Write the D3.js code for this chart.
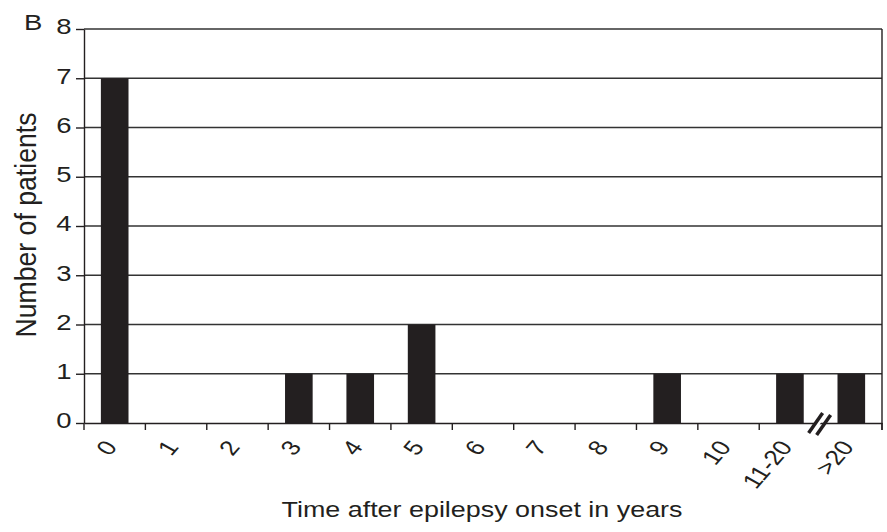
<!DOCTYPE html>
<html>
<head>
<meta charset="utf-8">
<script src="https://cdn.jsdelivr.net/npm/d3@7"></script>
<style>
  body { margin: 0; background: #fff; }
  text { font-family: "Liberation Sans", Arial, sans-serif; fill: #231f20; }
</style>
</head>
<body>
<div id="chart-area"></div>
<script>
// values
const categories = ['0', '1', '2', '3', '4', '5', '6', '7', '8', '9', '10', '11-20', '>20'];
const patients = [7, 0, 0, 1, 1, 2, 0, 0, 0, 1, 0, 1, 1];
const yTicks = [0, 1, 2, 3, 4, 5, 6, 7, 8];

const data = categories.map((c, i) => ({cat: c, n: patients[i]}));

const W = 887, H = 532;
const ink = '#231f20';
const stretch = 1.25; // the scanned figure is wider than it is tall

const svg = d3.select('#chart-area')
    .append('svg')
    .attr('width', W)
    .attr('height', H);

const x = d3.scaleBand()
    .domain(categories)
    .range([84, 882])
    .paddingInner(0.55)
    .paddingOuter(0.275);

const y = d3.scaleLinear()
    .domain([0, 8])
    .range([423, 29]);

// horizontal grid lines
svg.append('g')
    .selectAll('line')
    .data(yTicks.filter(d => d > 0))
    .enter()
    .append('line')
        .attr('x1', 84)
        .attr('x2', 882)
        .attr('y1', d => y(d))
        .attr('y2', d => y(d))
        .attr('stroke', '#333')
        .attr('stroke-width', 1.4);

// bars
svg.append('g')
    .selectAll('rect')
    .data(data.filter(d => d.n > 0))
    .enter()
    .append('rect')
        .attr('x', d => x(d.cat))
        .attr('y', d => y(d.n))
        .attr('width', x.bandwidth())
        .attr('height', d => y(0) - y(d.n))
        .attr('fill', ink);

// y axis
const yAxisCall = d3.axisLeft(y)
    .tickValues(yTicks)
    .tickSize(8)
    .tickSizeOuter(0)
    .tickPadding(2);
const yAxis = svg.append('g')
    .attr('transform', 'translate(84, 0)')
    .call(yAxisCall);
yAxis.select('.domain').attr('stroke', ink).attr('stroke-width', 1.4);
yAxis.selectAll('line').attr('stroke', ink).attr('stroke-width', 1.4);
yAxis.selectAll('text')
    .attr('font-size', '22px')
    .attr('dy', '0.22em')
    .attr('transform', `scale(${stretch},1)`)
    .style('fill', ink);

// x axis: labels at band centres, ticks between bands
const xAxisCall = d3.axisBottom(x)
    .tickSize(0)
    .tickSizeOuter(0);
const xAxis = svg.append('g')
    .attr('transform', `translate(0, ${y(0)})`)
    .call(xAxisCall);
xAxis.select('.domain').attr('stroke', ink).attr('stroke-width', 1.4);
xAxis.selectAll('text')
    .attr('font-size', '21px')
    .attr('x', 0)
    .attr('y', 0)
    .attr('dy', '0.35em')
    .attr('text-anchor', 'end')
    .attr('transform', `translate(-4, 20) scale(${stretch},1) rotate(-55)`)
    .style('fill', ink);

const half = (x.step() - x.bandwidth()) / 2;
const bounds = d3.range(categories.length + 1)
    .filter(i => i !== categories.length - 1)
    .map(i => i < categories.length ? x(categories[i]) - half : x(categories[i - 1]) + x.bandwidth() + half);
xAxis.selectAll('.bound')
    .data(bounds)
    .enter()
    .append('line')
        .attr('class', 'bound')
        .attr('x1', d => d)
        .attr('x2', d => d)
        .attr('y1', 0)
        .attr('y2', 7)
        .attr('stroke', ink)
        .attr('stroke-width', 1.4);

// right frame
svg.append('line')
    .attr('x1', x.range()[1])
    .attr('x2', x.range()[1])
    .attr('y1', y(8))
    .attr('y2', y(0) + 7)
    .attr('stroke', ink)
    .attr('stroke-width', 1.4);

// axis break between 11-20 and >20
const bx = x(categories[categories.length - 1]) - half;
const brk = svg.append('g').attr('transform', `translate(${bx}, ${y(0)})`);
brk.append('polygon')
    .attr('points', '-10,10 2,-10 6,-10 -6,10')
    .attr('fill', '#fff');
brk.append('line')
    .attr('x1', -12).attr('y1', 10).attr('x2', 2).attr('y2', -10)
    .attr('stroke', ink).attr('stroke-width', 3.5);
brk.append('line')
    .attr('x1', -4).attr('y1', 12).attr('x2', 10).attr('y2', -8)
    .attr('stroke', ink).attr('stroke-width', 3.5);

// panel letter
svg.append('text')
    .attr('x', 24 / stretch)
    .attr('y', 30)
    .attr('font-size', '22px')
    .attr('transform', `scale(${stretch},1)`)
    .text('B');

// axis titles
svg.append('text')
    .attr('x', 482)
    .attr('y', 517)
    .attr('font-size', '22px')
    .attr('text-anchor', 'middle')
    .attr('textLength', 401)
    .attr('lengthAdjust', 'spacingAndGlyphs')
    .text('Time after epilepsy onset in years');

svg.append('text')
    .attr('x', 0)
    .attr('y', 0)
    .attr('font-size', '24px')
    .attr('text-anchor', 'middle')
    .attr('textLength', 225)
    .attr('lengthAdjust', 'spacingAndGlyphs')
    .attr('transform', `translate(36, 225) scale(1.2,1) rotate(-90)`)
    .text('Number of patients');
</script>
</body>
</html>
